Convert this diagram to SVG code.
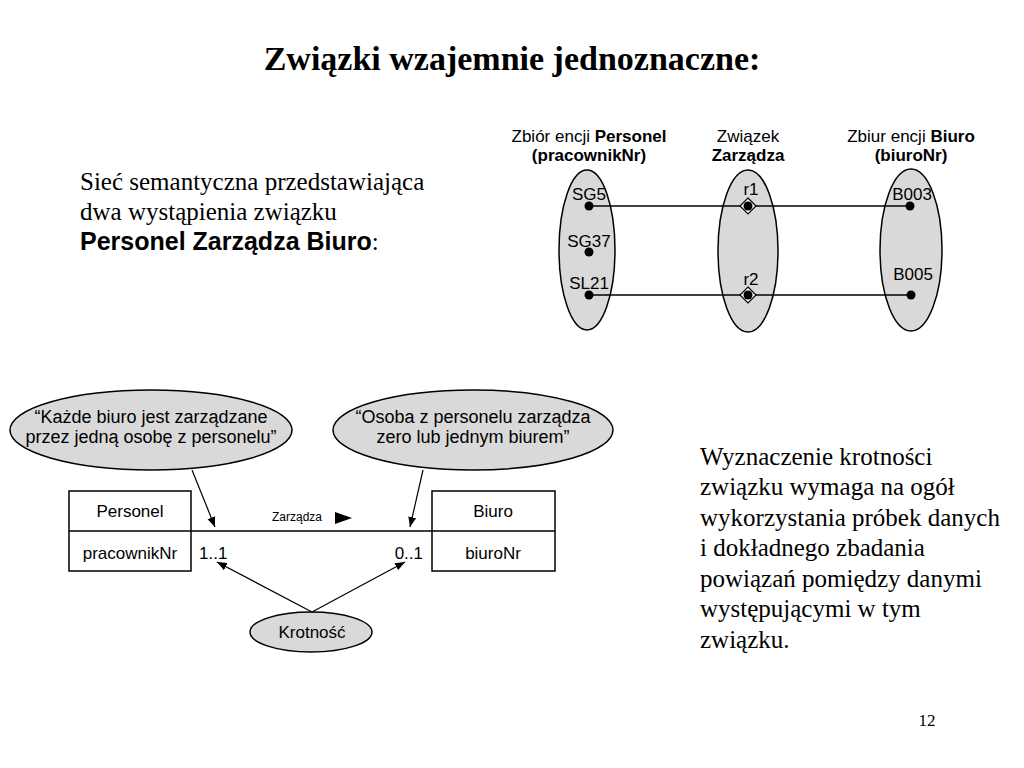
<svg xmlns="http://www.w3.org/2000/svg" width="1024" height="768" viewBox="0 0 1024 768">
<style>
.serif{font-family:"Liberation Serif","Times New Roman",serif;fill:#000}
.sans{font-family:"Liberation Sans",Arial,sans-serif;fill:#000}
.ell{fill:#d9d9d9;stroke:#000;stroke-width:1.5}
.box{fill:#fff;stroke:#000;stroke-width:1.5}
.ln{stroke:#000;stroke-width:1.5;fill:none}
.thin{stroke:#000;stroke-width:1.2;fill:none}
.dot{fill:#000}
.lbl{font-size:17px;text-anchor:middle}
.b{font-weight:bold}
.body{font-size:25px}
.note{font-size:18px;text-anchor:middle}
.cell{font-size:17px;text-anchor:middle}
</style>
<defs>
<marker id="arr" viewBox="0 0 10 10" refX="10" refY="5" markerWidth="10" markerHeight="10" markerUnits="userSpaceOnUse" orient="auto">
<path d="M0,1 L10,5 L0,9 Z" fill="#000"/>
</marker>
</defs>
<rect width="1024" height="768" fill="#fff"/>
<text class="serif b" x="512" y="70" font-size="34" text-anchor="middle">Związki wzajemnie jednoznaczne:</text>
<g id="intro-text">
<text class="serif body" x="80" y="190">Sieć semantyczna przedstawiająca</text>
<text class="serif body" x="80" y="220">dwa wystąpienia związku</text>
<text x="80" y="250" font-size="25"><tspan class="sans b">Personel Zarządza Biuro</tspan><tspan class="serif">:</tspan></text>
</g>
<g id="semantic-net">
<text class="sans lbl" x="589" y="142">Zbiór encji <tspan class="b">Personel</tspan></text>
<text class="sans lbl b" x="589" y="161">(pracownikNr)</text>
<text class="sans lbl" x="748" y="142">Związek</text>
<text class="sans lbl b" x="748" y="161">Zarządza</text>
<text class="sans lbl" x="911" y="142">Zbiur encji <tspan class="b">Biuro</tspan></text>
<text class="sans lbl b" x="911" y="161">(biuroNr)</text>
<g id="set-personel"><ellipse class="ell" cx="587" cy="250" rx="28" ry="80"/></g>
<g id="set-zarzadza"><ellipse class="ell" cx="748" cy="251" rx="30" ry="81"/></g>
<g id="set-biuro"><ellipse class="ell" cx="911" cy="250" rx="31" ry="81"/></g>
<g id="net-links">
<line class="ln" x1="589" y1="206" x2="910" y2="206"/>
<line class="ln" x1="589" y1="295" x2="911" y2="295"/>
</g>
<g id="SG5"><circle class="dot" cx="589" cy="206" r="4.5"/><text class="sans lbl" x="589" y="200">SG5</text></g>
<g id="SG37"><circle class="dot" cx="589" cy="252" r="4.5"/><text class="sans lbl" x="589" y="247">SG37</text></g>
<g id="SL21"><circle class="dot" cx="589" cy="295" r="4.5"/><text class="sans lbl" x="589" y="289">SL21</text></g>
<g id="r1"><path d="M748,198 L756,206 L748,214 L740,206 Z" fill="#fff" stroke="#000" stroke-width="1.2"/><circle class="dot" cx="748" cy="206" r="4.5"/><text class="sans lbl" x="751" y="195">r1</text></g>
<g id="r2"><path d="M748,287 L756,295 L748,303 L740,295 Z" fill="#fff" stroke="#000" stroke-width="1.2"/><circle class="dot" cx="748" cy="295" r="4.5"/><text class="sans lbl" x="751" y="285">r2</text></g>
<g id="B003"><circle class="dot" cx="910" cy="206" r="4.5"/><text class="sans lbl" x="912" y="200">B003</text></g>
<g id="B005"><circle class="dot" cx="911" cy="295" r="4.5"/><text class="sans lbl" x="913" y="280">B005</text></g>
</g>
<g id="note-1"><ellipse class="ell" cx="151" cy="430" rx="141" ry="40"/>
<text class="sans note" x="151" y="423">“Każde biuro jest zarządzane</text>
<text class="sans note" x="151" y="443">przez jedną osobę z personelu”</text></g>
<g id="note-2"><ellipse class="ell" cx="473" cy="430" rx="140" ry="40"/>
<text class="sans note" x="473" y="423">“Osoba z personelu zarządza</text>
<text class="sans note" x="473" y="443">zero lub jednym biurem”</text></g>
<g id="personel">
<rect class="box" x="69" y="491" width="122" height="80"/>
<line class="ln" x1="69" y1="531" x2="191" y2="531"/>
<text class="sans cell" x="130" y="517">Personel</text>
<text class="sans cell" x="130" y="559">pracownikNr</text>
</g>
<g id="biuro">
<rect class="box" x="432" y="491" width="123" height="80"/>
<line class="ln" x1="432" y1="531" x2="555" y2="531"/>
<text class="sans cell" x="493" y="517">Biuro</text>
<text class="sans cell" x="493" y="559">biuroNr</text>
</g>
<g id="krotnosc"><ellipse class="ell" cx="311" cy="632" rx="61" ry="20"/>
<text class="sans cell" x="312" y="638">Krotność</text></g>
<g id="connectors">
<line class="ln" x1="191" y1="531" x2="432" y2="531"/>
<text class="sans" x="297" y="521" font-size="12" text-anchor="middle">Zarządza</text>
<path d="M335,512 L352,518 L335,524 Z" fill="#000"/>
<text class="sans" x="199" y="559" font-size="17">1..1</text>
<text class="sans" x="423" y="559" font-size="17" text-anchor="end">0..1</text>
<line class="thin" x1="192" y1="470" x2="215" y2="527" marker-end="url(#arr)"/>
<line class="thin" x1="423" y1="470" x2="410" y2="527" marker-end="url(#arr)"/>
<line class="thin" x1="312" y1="612" x2="217" y2="562" marker-end="url(#arr)"/>
<line class="thin" x1="312" y1="612" x2="405" y2="562" marker-end="url(#arr)"/>
</g>
<g id="right-text">
<text class="serif body" x="700" y="465">Wyznaczenie krotności</text>
<text class="serif body" x="700" y="495">związku wymaga na ogół</text>
<text class="serif body" x="700" y="526">wykorzystania próbek danych</text>
<text class="serif body" x="700" y="556">i dokładnego zbadania</text>
<text class="serif body" x="700" y="587">powiązań pomiędzy danymi</text>
<text class="serif body" x="700" y="617">występującymi w tym</text>
<text class="serif body" x="700" y="648">związku.</text>
</g>
<text class="serif" x="927" y="726" font-size="17" text-anchor="middle">12</text>
</svg>
